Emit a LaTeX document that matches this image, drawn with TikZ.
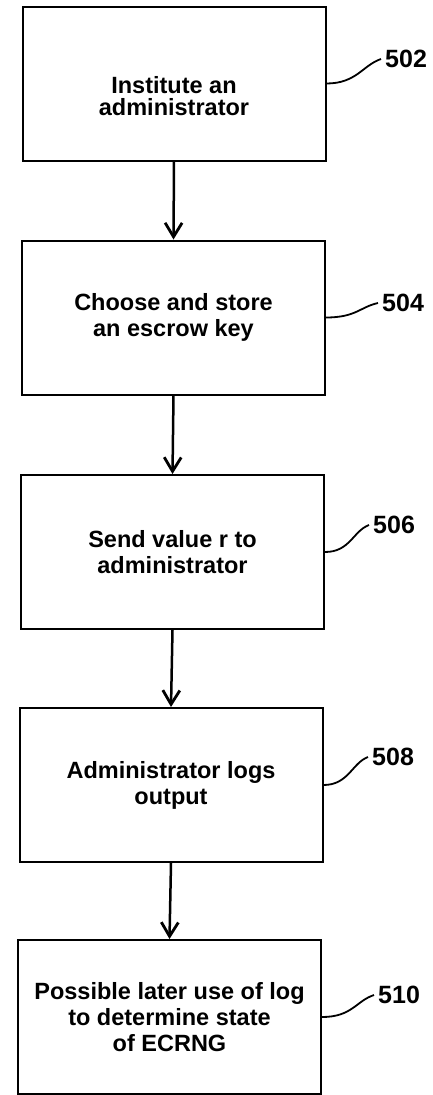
\documentclass[tikz,border=0pt]{standalone}
\usepackage{fontspec}
\setmainfont{Liberation Sans}
\usetikzlibrary{arrows.meta}

\tikzset{
	stepbox/.style={draw, line width=2pt, minimum width=303pt, minimum height=154pt, inner sep=0pt, align=center, font=\bfseries\fontsize{23.5}{26}\selectfont},
	steptext/.style={inner sep=0pt, align=center, font=\bfseries\fontsize{23.5}{22}\selectfont},
	flow/.style={line width=2.5pt, -{Straight Barb[length=14pt,width=17pt,line width=2.8pt]}},
	leader/.style={line width=1.8pt},
	reflabel/.style={anchor=west, inner sep=4pt, font=\bfseries\fontsize{25}{25}\selectfont}
}

\begin{document}
\begin{tikzpicture}[x=1pt,y=-1pt]
			%%%%% START %%%%%
			\useasboundingbox (0,0) rectangle (432,1095);
			
			\node[stepbox] (b502) at (174, 83.5) {};
			\node[steptext] (t502) at (174, 96) {Institute an\\administrator};
			\node[stepbox] (b504) at (173.5, 317.5) {Choose and store\\an escrow key};
			\node[stepbox] (b506) at (172.5, 552) {Send value r to\\administrator};
			\node[stepbox] (b508) at (171, 785) {Administrator logs\\output};
			\node[stepbox] (b510) at (169.5, 1017) {Possible later use of log\\to determine state\\of ECRNG};
			
			\draw[flow] (b502.south) -- (b504.north);
			\draw[flow] (b504.south) -- (b506.north);
			\draw[flow] (b506.south) -- (b508.north);
			\draw[flow] (b508.south) -- (b510.north);
			
			\node[reflabel] (l502) at (381, 59) {502};
			\node[reflabel] (l504) at (378, 303) {504};
			\node[reflabel] (l506) at (369, 525) {506};
			\node[reflabel] (l508) at (368, 757) {508};
			\node[reflabel] (l510) at (374, 995) {510};
			
			\draw[leader] (b502.east) .. controls +(30,0) and +(-18,6) .. (l502.west);
			\draw[leader] (b504.east) .. controls +(30,0) and +(-18,4) .. (l504.west);
			\draw[leader] (b506.east) .. controls +(25,0) and +(-16,6) .. (l506.west);
			\draw[leader] (b508.east) .. controls +(25,0) and +(-16,6) .. (l508.west);
			\draw[leader] (b510.east) .. controls +(30,0) and +(-18,6) .. (l510.west);
			
			%%%%% END %%%%%
\end{tikzpicture}
\end{document}
